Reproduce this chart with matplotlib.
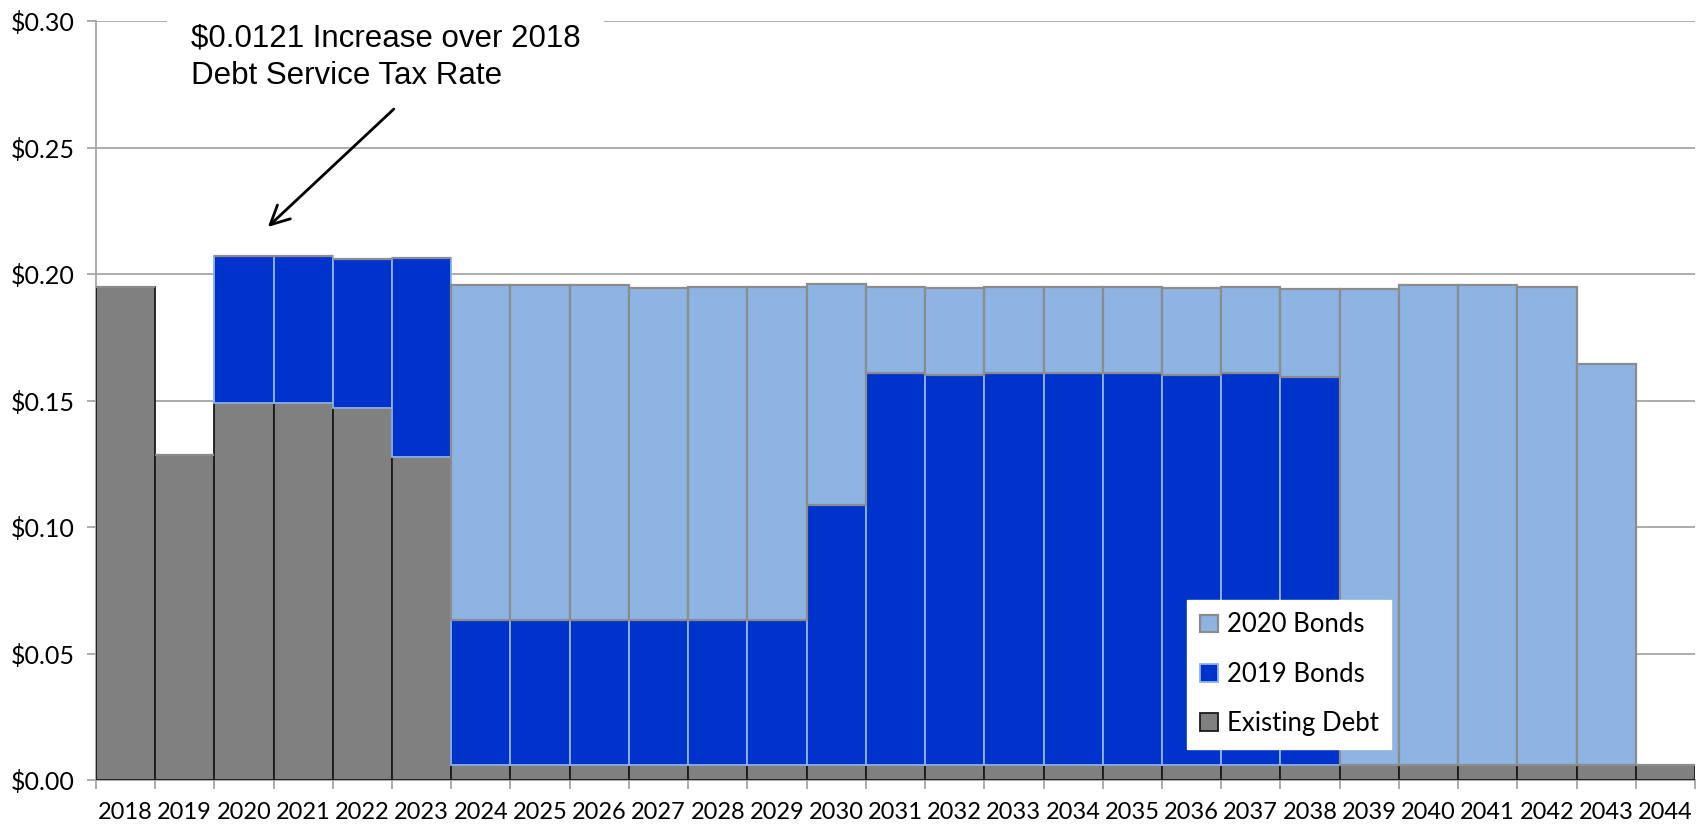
import matplotlib
matplotlib.use("Agg")
import matplotlib.pyplot as plt
import numpy as np

years = [str(y) for y in range(2018, 2045)]
existing_debt = [0.195, 0.1285, 0.149, 0.149, 0.147, 0.1275,
                 0.006, 0.006, 0.006, 0.006, 0.006, 0.006, 0.006,
                 0.006, 0.006, 0.006, 0.006, 0.006, 0.006, 0.006,
                 0.006, 0.006, 0.006, 0.006, 0.006, 0.006, 0.006]
bonds_2019 = [0, 0, 0.058, 0.058, 0.0588, 0.079,
              0.0574, 0.0574, 0.0574, 0.0574, 0.0574, 0.0574, 0.1029,
              0.1547, 0.1542, 0.1547, 0.1547, 0.1547, 0.1542, 0.1547,
              0.1534, 0, 0, 0, 0, 0, 0]
totals = [0.195, 0.1285, 0.207, 0.207, 0.2058, 0.2065,
          0.1955, 0.1955, 0.1955, 0.1945, 0.195, 0.195, 0.196,
          0.195, 0.1945, 0.195, 0.195, 0.195, 0.1945, 0.195,
          0.194, 0.194, 0.1955, 0.1955, 0.195, 0.1645, 0.006]
bonds_2020 = [max(0.0, t - e - b) if i >= 6 else 0.0
              for i, (t, e, b) in enumerate(zip(totals, existing_debt, bonds_2019))]

plt.rcParams['font.family'] = ['Lato', 'DejaVu Sans']

fig = plt.figure(figsize=(17.04, 8.27), dpi=100)
ax = fig.add_axes([0.0563, 0.0568, 0.9384, 0.9178])

x = np.arange(len(years))
ax.bar(x, existing_debt, width=1.0, color='#808080', edgecolor='#1A1A1A', linewidth=1.3,
       label='Existing Debt', zorder=3)
ax.bar(x, bonds_2019, width=1.0, bottom=existing_debt, color='#0033CC', edgecolor='#8EB4E3',
       linewidth=1.3, label='2019 Bonds', zorder=3)
bot2 = [e + b for e, b in zip(existing_debt, bonds_2019)]
ax.bar(x, bonds_2020, width=1.0, bottom=bot2, color='#8EB4E3', edgecolor='#8C8C8C',
       linewidth=1.6, label='2020 Bonds', zorder=3)

ax.set_xlim(-0.5, len(years) - 0.5)
ax.set_ylim(0, 0.30)
yt = np.arange(0, 0.301, 0.05)
ax.set_yticks(yt)
ax.set_yticklabels([f"${v:.2f}" for v in yt], fontsize=18, color='#000000')
ax.yaxis.grid(True, color='#A6A6A6', linewidth=1.3, zorder=0)
ax.set_xticks(x)
ax.set_xticklabels(years, fontsize=17)
ax.set_xticks(np.arange(-0.5, len(years), 1.0), minor=True)
ax.tick_params(axis='x', which='major', length=0, pad=16)
ax.tick_params(axis='x', which='minor', length=6.5, color='#A6A6A6', width=1.3)
ax.tick_params(axis='y', length=6.5, color='#A6A6A6', width=1.3, pad=9)

for s in ['top', 'right']:
    ax.spines[s].set_visible(False)
ax.spines['left'].set_color('#A6A6A6')
ax.spines['bottom'].set_color('#A6A6A6')
ax.spines['left'].set_linewidth(1.3)
ax.spines['bottom'].set_linewidth(1.3)

ax.text(1.103, 0.2992, "$0.0121 Increase over 2018\nDebt Service Tax Rate",
        fontsize=22.5, family=['Liberation Sans', 'DejaVu Sans'],
        ha='left', va='top', linespacing=1.36,
        bbox=dict(boxstyle='square,pad=0.75', fc='white', ec='none'),
        zorder=5, clip_on=False)
ax.annotate("", xy=(2.403, 0.2186), xytext=(4.53, 0.2652), textcoords='data',
            arrowprops=dict(arrowstyle='->', color='black', lw=2.0, mutation_scale=34,
                            shrinkA=0, shrinkB=0),
            zorder=6)

handles, labels = ax.get_legend_handles_labels()
leg = ax.legend(handles[::-1], labels[::-1], loc='lower left',
                bbox_to_anchor=(0.6825, 0.0408), borderaxespad=0,
                fontsize=18.5, frameon=True,
                fancybox=False, edgecolor='white', framealpha=1.0,
                handlelength=0.68, handleheight=0.68, handletextpad=0.35,
                labelspacing=0.95, borderpad=0.5)
leg.set_zorder(6)

fig.savefig("out.png", dpi=100)
